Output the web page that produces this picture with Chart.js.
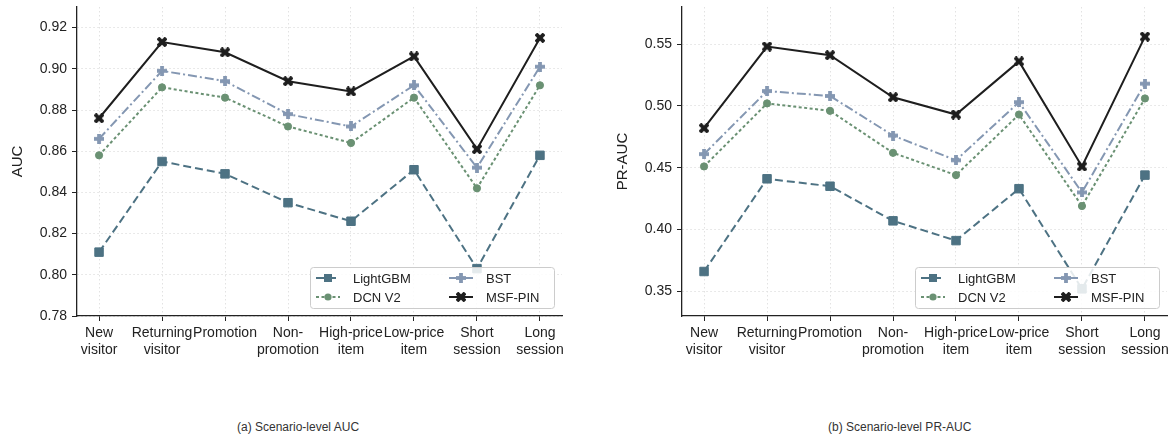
<!DOCTYPE html>
<html>
<head>
<meta charset="utf-8">
<script src="https://cdn.jsdelivr.net/npm/chart.js@4.4.0/dist/chart.umd.min.js"></script>
<style>
  body { margin: 0; background: #fff; width: 1174px; height: 437px; position: relative; overflow: hidden;
         font-family: 'Liberation Sans', Arial, sans-serif; }
  .wrap { position: absolute; top: 0; height: 380px; }
  .cap { position: absolute; top: 420px; font-size: 12px; color: #333; white-space: nowrap; }
</style>
</head>
<body>
<div class="wrap" style="left:0;width:580px"><canvas id="aucChart" width="580" height="380"></canvas></div>
<div class="wrap" style="left:590px;width:584px"><canvas id="prChart" width="584" height="380"></canvas></div>
<div class="cap" style="left:237px">(a) Scenario-level AUC</div>
<div class="cap" style="left:828px">(b) Scenario-level PR-AUC</div>
<script>
const scenarios = [['New', 'visitor'], ['Returning', 'visitor'], 'Promotion', ['Non-', 'promotion'],
                   ['High-price', 'item'], ['Low-price', 'item'], ['Short', 'session'], ['Long', 'session']];

const aucLightGBM = [0.811, 0.855, 0.849, 0.835, 0.826, 0.851, 0.803, 0.858];
const aucDCN      = [0.858, 0.891, 0.886, 0.872, 0.864, 0.886, 0.842, 0.892];
const aucBST      = [0.866, 0.899, 0.894, 0.878, 0.872, 0.892, 0.852, 0.901];
const aucMSF      = [0.876, 0.913, 0.908, 0.894, 0.889, 0.906, 0.861, 0.915];

const prLightGBM = [0.366, 0.441, 0.435, 0.407, 0.391, 0.433, 0.352, 0.444];
const prDCN      = [0.451, 0.502, 0.496, 0.462, 0.444, 0.493, 0.419, 0.506];
const prBST      = [0.461, 0.512, 0.508, 0.476, 0.456, 0.503, 0.430, 0.518];
const prMSF      = [0.482, 0.548, 0.541, 0.507, 0.493, 0.536, 0.451, 0.556];

const aucTicks = [0.78, 0.80, 0.82, 0.84, 0.86, 0.88, 0.90, 0.92];
const prTicks  = [0.35, 0.40, 0.45, 0.50, 0.55];

const FONT = "'Liberation Sans', Arial, sans-serif";
const TEXT = '#222';

// filled plus / X markers like matplotlib 'P' and 'X'
function markerCanvas(shape, color, size) {
    const c = document.createElement('canvas');
    c.width = c.height = size;
    const g = c.getContext('2d');
    const h = size / 2;
    g.fillStyle = color;
    g.translate(h, h);
    if (shape === 'x') g.rotate(Math.PI / 4);
    const a = size * 0.19;
    const l = shape === 'x' ? h * 1.15 : h;
    g.fillRect(-l, -a, 2 * l, 2 * a);
    g.fillRect(-a, -l, 2 * a, 2 * l);
    return c;
}

const styles = {
    LightGBM: { color: '#4d7283', dash: [8, 4], point: 'rect', radius: 6 },
    'DCN V2': { color: '#6a9173', dash: [3, 2.5], point: 'circle', radius: 3.6 },
    BST: { color: '#8497b2', dash: [9, 3, 2, 3], point: markerCanvas('plus', '#8497b2', 10), radius: 5 },
    'MSF-PIN': { color: '#1e1e1e', dash: [], point: markerCanvas('x', '#1e1e1e', 10), radius: 5 }
};

function makeDataset(label, values, order) {
    const s = styles[label];
    return {
        label: label,
        data: values.map((v, i) => ({ x: i, y: v })),
        borderColor: s.color,
        backgroundColor: s.color,
        borderWidth: 2,
        borderDash: s.dash,
        pointStyle: s.point,
        pointRadius: s.radius,
        pointHoverRadius: s.radius,
        pointBorderWidth: 1,
        pointBorderColor: s.color,
        pointBackgroundColor: s.color,
        tension: 0,
        order: order
    };
}

// legend drawn inside the plot, lower right, two columns like the figure
const boxLegend = {
    id: 'boxLegend',
    afterDraw(chart) {
        const { ctx, chartArea } = chart;
        const w = 244, h = 41;
        const x0 = chartArea.right - 8 - w, y0 = chartArea.bottom - 8 - h;
        ctx.save();
        ctx.beginPath();
        ctx.roundRect(x0 + 0.5, y0 + 0.5, w, h, 3);
        ctx.fillStyle = 'rgba(255,255,255,0.85)';
        ctx.fill();
        ctx.strokeStyle = '#cccccc';
        ctx.lineWidth = 1;
        ctx.stroke();
        const slots = [['LightGBM', 0, 0], ['DCN V2', 0, 1], ['BST', 1, 0], ['MSF-PIN', 1, 1]];
        ctx.font = '13px ' + FONT;
        ctx.textBaseline = 'middle';
        slots.forEach(([name, col, row]) => {
            const s = styles[name];
            const sx = x0 + (col ? 139 : 6);
            const sy = y0 + (row ? 30 : 11);
            ctx.strokeStyle = s.color;
            ctx.lineWidth = 2;
            ctx.setLineDash(s.dash);
            ctx.beginPath();
            ctx.moveTo(sx, sy);
            ctx.lineTo(sx + 24, sy);
            ctx.stroke();
            ctx.setLineDash([]);
            ctx.fillStyle = s.color;
            const mx = sx + 12;
            if (s.point === 'rect') {
                ctx.fillRect(mx - 4, sy - 4, 8, 8);
            } else if (s.point === 'circle') {
                ctx.beginPath();
                ctx.arc(mx, sy, 3.6, 0, Math.PI * 2);
                ctx.fill();
            } else {
                ctx.drawImage(s.point, mx - 5, sy - 5);
            }
            ctx.fillStyle = TEXT;
            ctx.fillText(name, sx + 37, sy + 1);
        });
        ctx.restore();
    }
};

function makeChart(id, series, yMin, yMax, yTicks, yTitle, yWidth, titlePad, pad) {
    const ctx = document.getElementById(id).getContext('2d');
    return new Chart(ctx, {
        type: 'line',
        data: {
            datasets: [
                makeDataset('LightGBM', series[0], 3),
                makeDataset('DCN V2', series[1], 2),
                makeDataset('BST', series[2], 1),
                makeDataset('MSF-PIN', series[3], 0)
            ]
        },
        options: {
            responsive: false,
            animation: false,
            layout: { padding: pad },
            plugins: { legend: { display: false }, tooltip: { enabled: false } },
            scales: {
                x: {
                    type: 'linear',
                    min: -0.35,
                    max: scenarios.length - 1 + 0.35,
                    afterBuildTicks: s => { s.ticks = scenarios.map((_, i) => ({ value: i })); },
                    afterFit: s => { s.height = 64; s.paddingLeft = 0; s.paddingRight = 0; },
                    ticks: {
                        autoSkip: false, maxRotation: 0, padding: 4, color: TEXT,
                        font: { size: 14, family: FONT },
                        callback: v => scenarios[v]
                    },
                    grid: { color: '#e2e2e2', lineWidth: 1, tickColor: '#222', tickLength: 5, tickBorderDash: [] },
                    border: { color: '#222', width: 1.3, dash: [1.5, 2.5] }
                },
                y: {
                    min: yMin,
                    max: yMax,
                    afterBuildTicks: s => { s.ticks = yTicks.map(v => ({ value: v })); },
                    afterFit: s => { s.width = yWidth; s.paddingTop = 0; s.paddingBottom = 0; },
                    ticks: {
                        padding: 5, color: TEXT,
                        font: { size: 14, family: FONT },
                        callback: v => v.toFixed(2)
                    },
                    title: {
                        display: true, text: yTitle, color: TEXT,
                        font: { size: 15, family: FONT },
                        padding: { top: titlePad, bottom: 0 }
                    },
                    grid: { color: '#e2e2e2', lineWidth: 1, tickColor: '#222', tickLength: 5, tickBorderDash: [] },
                    border: { color: '#222', width: 1.3, dash: [1.5, 2.5] }
                }
            }
        },
        plugins: [boxLegend]
    });
}

makeChart('aucChart', [aucLightGBM, aucDCN, aucBST, aucMSF], 0.78, 0.93, aucTicks, 'AUC', 77, 9,
          { top: 5, right: 18, left: 0, bottom: 0 });
makeChart('prChart', [prLightGBM, prDCN, prBST, prMSF], 0.33, 0.58, prTicks, 'PR-AUC', 92, 24,
          { top: 6, right: 6, left: 0, bottom: 0 });
</script>
</body>
</html>
